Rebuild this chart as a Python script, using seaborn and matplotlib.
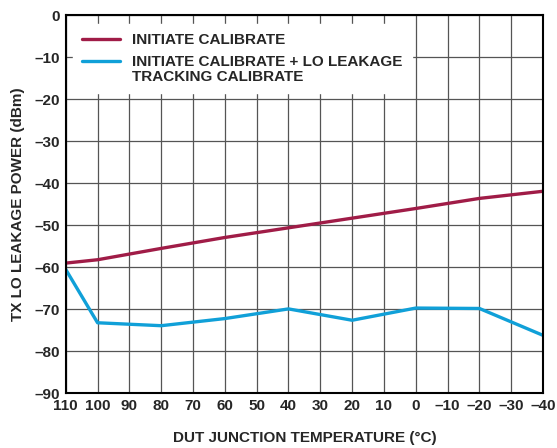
import numpy as np
import pandas as pd
import seaborn as sns
import matplotlib.pyplot as plt
from matplotlib.legend_handler import HandlerLine2D

# —— DATA —— #
temps = [110, 100, 80, 60, 40, 20, 0, -20, -40]
init_cal = [-59.0, -58.2, -55.5, -52.9, -50.6, -48.3, -46.0, -43.6, -41.9]
init_lo_cal = [-60.5, -73.2, -73.9, -72.2, -69.9, -72.6, -69.7, -69.8, -76.2]

LABEL_1 = 'INITIATE CALIBRATE'
LABEL_2 = 'INITIATE CALIBRATE + LO LEAKAGE\nTRACKING CALIBRATE'
x_ticks = list(range(110, -41, -10))
x_ticklabels = [str(t).replace('-', '\u2013') for t in x_ticks]
y_ticks = list(range(0, -91, -10))
y_ticklabels = [str(t).replace('-', '\u2013') for t in y_ticks]

df = pd.DataFrame({
    'temp': temps * 2,
    'power': init_cal + init_lo_cal,
    'series': [LABEL_1] * len(temps) + [LABEL_2] * len(temps),
})


class HandlerShift(HandlerLine2D):
    """Line handle raised to sit next to the first text line."""
    def __init__(self, shift=0, **kw):
        super().__init__(**kw)
        self.shift = shift

    def create_artists(self, legend, orig_handle, xdescent, ydescent,
                       width, height, fontsize, trans):
        return super().create_artists(legend, orig_handle, xdescent,
                                      ydescent - 2 * self.shift,
                                      width, height, fontsize, trans)


# —— STYLE —— #
sns.set_theme(style='white')
plt.rcParams['font.family'] = ['Liberation Sans', 'DejaVu Sans']
plt.rcParams['font.weight'] = 'bold'
FS = 11

fig, ax = plt.subplots(figsize=(5.57, 4.48), dpi=100)
fig.subplots_adjust(left=0.118, right=0.975, top=0.966, bottom=0.122)

sns.lineplot(data=df, x='temp', y='power', hue='series',
             palette=['#a01c47', '#10a0d8'], linewidth=2.4, ax=ax,
             legend=True)

ax.set_xlim(110, -40)
ax.set_ylim(-90, 0)
ax.set_xticks(x_ticks)
ax.set_xticklabels(x_ticklabels, fontsize=FS, fontweight='bold')
ax.set_yticks(y_ticks)
ax.set_yticklabels(y_ticklabels, fontsize=FS, fontweight='bold')
ax.tick_params(length=0, pad=4)
ax.grid(True, color='#555555', linewidth=0.9)
for s in ax.spines.values():
    s.set_color('black')
    s.set_linewidth(1.5)

ax.set_xlabel('DUT JUNCTION TEMPERATURE (°C)', fontsize=FS, fontweight='bold', labelpad=13)
ax.set_ylabel('TX LO LEAKAGE POWER (dBm)', fontsize=FS, fontweight='bold', labelpad=7)

handles, labels = ax.get_legend_handles_labels()
ax.get_legend().remove()
leg = ax.legend(handles, labels, loc='upper left', bbox_to_anchor=(0.015, 0.976),
                borderaxespad=0, frameon=True, fancybox=False, framealpha=1,
                edgecolor='white', handlelength=2.5, handletextpad=0.8,
                labelspacing=0.5, borderpad=0.6,
                handler_map={handles[1]: HandlerShift(shift=6.0)},
                prop={'weight': 'bold', 'size': FS})
for t in leg.get_texts():
    t.set_linespacing(1.1)

fig.savefig('out.png', dpi=100)
